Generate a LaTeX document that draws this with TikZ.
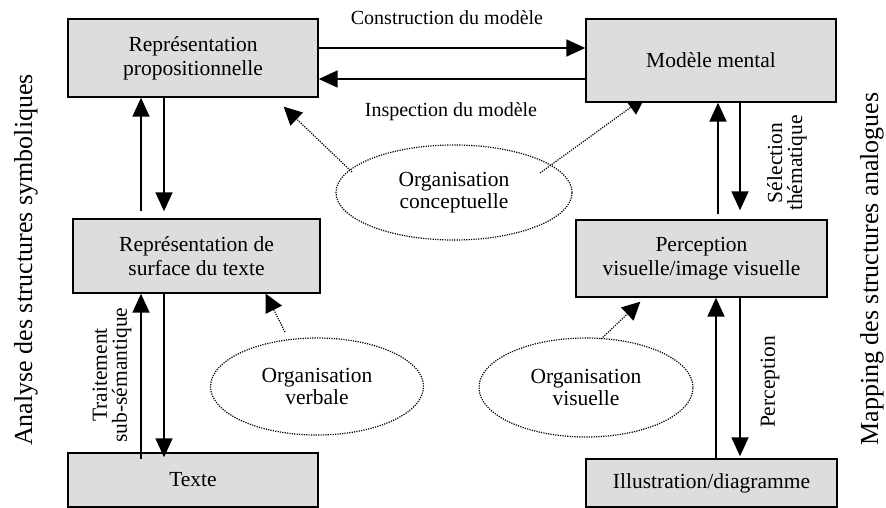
\documentclass[tikz,border=0pt]{standalone}
\usepackage{fontspec}
\setmainfont{Liberation Serif}
\usetikzlibrary{arrows.meta,shapes.geometric,backgrounds}
\definecolor{boxgray}{RGB}{221,221,221}
\begin{document}
\begin{tikzpicture}[x=1pt,y=-1pt,
  box/.style={draw=black,line width=1.4pt,fill=boxgray,rectangle,inner sep=0pt,align=center,
    font=\fontsize{21.5}{24}\selectfont},
  oval/.style={draw=black,ellipse,line width=1.2pt,dash pattern=on 1.2pt off 1.2pt,inner sep=0pt,align=center,
    font=\fontsize{21.5}{22}\selectfont},
  arr/.style={line width=1.8pt,-{Triangle[length=19pt,width=17pt]}},
  dotarr/.style={line width=1.2pt,dash pattern=on 1.2pt off 1.2pt,-{Triangle[length=18pt,width=18pt]}},
  lbl/.style={font=\fontsize{20}{22}\selectfont,inner sep=0pt},
  vlbl/.style={font=\fontsize{21.5}{20}\selectfont,inner sep=0pt,rotate=90,align=center},
  side/.style={font=\fontsize{26}{28}\selectfont,inner sep=0pt,rotate=90}]
\useasboundingbox (0,0) rectangle (886,508);

\node[box,minimum width=250pt,minimum height=78pt] (RP) at (193,58) {Représentation\\propositionnelle};
\node[box,minimum width=250pt,minimum height=83pt] (MM) at (711,60.5) {Modèle mental};
\node[box,minimum width=247pt,minimum height=74pt] (RST) at (196.5,256) {Représentation de\\surface du texte};
\node[box,minimum width=250pt,minimum height=54pt] (TX) at (193,480) {Texte};
\node[box,minimum width=251pt,minimum height=77pt] (PV) at (701.5,258.5) {Perception\\visuelle/image visuelle};
\node[box,minimum width=251pt,minimum height=48pt] (IL) at (711.5,483) {Illustration/diagramme};

\node[oval,minimum width=236pt,minimum height=95pt] (OC) at (454,192.5) {Organisation\\conceptuelle};
\node[oval,minimum width=213pt,minimum height=97pt] (OV) at (317,386.5) {Organisation\\verbale};
\node[oval,minimum width=214pt,minimum height=99pt] (OVI) at (586,387.5) {Organisation\\visuelle};

\begin{scope}[on background layer]
\draw[dotarr] ([xshift=-102pt,yshift=20.5pt]OC.center) -- ([xshift=-35pt,yshift=-9pt]RP.south east);
\draw[dotarr] ([xshift=86pt,yshift=19.5pt]OC.center) -- ([xshift=60pt,yshift=6pt]MM.south west);
\draw[dotarr] ([xshift=-32pt,yshift=54.5pt]OV.center) -- ([xshift=-55pt]RST.south east);
\draw[dotarr] ([xshift=15pt,yshift=48.5pt]OVI.center) -- ([xshift=65pt,yshift=-4pt]PV.south west);
\end{scope}

% horizontal
\draw[arr] ([yshift=10pt]RP.east) -- ([yshift=12.5pt]MM.west);
\draw[arr] ([yshift=-18.5pt]MM.west) -- ([yshift=-21pt]RP.east);
% left column
\draw[arr] ([xshift=-55.5pt,yshift=7pt]RST.north) -- ([xshift=-52pt]RP.south);
\draw[arr] ([xshift=-29pt]RP.south) -- ([xshift=-32.5pt,yshift=7pt]RST.north);
\draw[arr] ([xshift=-52pt,yshift=-7pt]TX.north) -- ([xshift=-55.5pt]RST.south);
\draw[arr] ([xshift=-32.5pt]RST.south) -- ([xshift=-29pt,yshift=-5pt]TX.north);
% right column
\draw[arr] ([xshift=16.5pt,yshift=5pt]PV.north) -- ([xshift=7pt]MM.south);
\draw[arr] ([xshift=29pt]MM.south) -- ([xshift=38.5pt,yshift=9pt]PV.north);
\draw[arr] ([xshift=4.5pt]IL.north) -- ([xshift=14.5pt]PV.south);
\draw[arr] ([xshift=38.5pt]PV.south) -- ([xshift=28.5pt,yshift=2pt]IL.north);

% labels
\node[lbl,anchor=base] (lc) at (447,25) {Construction du modèle};
\node[lbl,anchor=base] (li) at (451,117) {Inspection du modèle};
\node[vlbl] (ls) at (787,163) {Sélection\\thématique};
\node[vlbl] (lp) at (770,382) {Perception};
\node[vlbl] (lt) at (112,375) {Traitement\\sub-sémantique};
\node[side] (sa) at (26,260) {Analyse des structures symboliques};
\node[side] (sm) at (872,269) {Mapping des structures analogues};
\end{tikzpicture}
\end{document}
